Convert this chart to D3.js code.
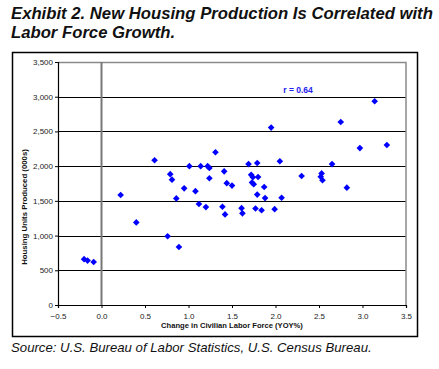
<!DOCTYPE html>
<html>
<head>
<meta charset="utf-8">
<script src="https://cdn.jsdelivr.net/npm/d3@7"></script>
<style>
  body { margin: 0; background: #fff; }
  svg { display: block; font-family: "Liberation Sans", Arial, sans-serif; }
  .tick text { fill: #222; font-size: 8px; }
  .axis path, .axis line { stroke: #000; }
</style>
</head>
<body>
<svg id="chart" width="439" height="369"></svg>
<script>
// change in civilian labor force (YOY%)
const laborGrowth = [-0.20, -0.16, -0.09, 0.22, 0.40, 0.61, 0.76, 0.79, 0.81, 0.86,
  0.89, 0.95, 1.01, 1.08, 1.12, 1.14, 1.20, 1.22, 1.24, 1.24,
  1.31, 1.39, 1.42, 1.41, 1.44, 1.50, 1.61, 1.62, 1.69, 1.72,
  1.74, 1.80, 1.73, 1.75, 1.79, 1.77, 1.79, 1.84, 1.87, 1.88,
  1.95, 1.99, 2.05, 2.07, 2.30, 2.53, 2.52, 2.54, 2.65, 2.75,
  2.82, 2.97, 3.14, 3.28];
// housing units produced (000s)
const housingUnits = [660, 640, 620, 1585, 1190, 2085, 990, 1885, 1805, 1535,
  835, 1680, 2000, 1640, 1455, 2000, 1410, 2000, 1975, 1825,
  2200, 1415, 1305, 1925, 1755, 1720, 1395, 1320, 2030, 1875,
  1840, 1843, 1765, 1740, 2045, 1390, 1590, 1365, 1700, 1540,
  2555, 1380, 2070, 1545, 1858, 1895, 1848, 1796, 2030, 2635,
  1690, 2260, 2935, 2305];
const xTicks = [-0.5, 0, 0.5, 1, 1.5, 2, 2.5, 3, 3.5];
const yTicks = [0, 500, 1000, 1500, 2000, 2500, 3000, 3500];
const rLabel = "r = 0.64";

const svg = d3.select("#chart");
const plot = {left: 58, right: 406, top: 62, bottom: 305};

const x = d3.scaleLinear().domain([-0.5, 3.5]).range([plot.left, plot.right]);
const y = d3.scaleLinear().domain([0, 3500]).range([plot.bottom, plot.top]);

// title
const title = svg.append("text")
    .attr("x", 11).attr("y", 19)
    .attr("font-size", "16.7px").attr("font-weight", "bold").attr("font-style", "italic")
    .attr("fill", "#111");
title.append("tspan").attr("x", 11).text("Exhibit 2. New Housing Production Is Correlated with");
title.append("tspan").attr("x", 11).attr("dy", 19).text("Labor Force Growth.");

// outer frame
svg.append("rect")
    .attr("x", 12.5).attr("y", 52.5)
    .attr("width", 405).attr("height", 284)
    .attr("fill", "none").attr("stroke", "#000").attr("stroke-width", 1.5);

// grid
svg.append("g")
    .selectAll("line")
    .data(yTicks.filter(d => d > 0 && d < 3500))
    .join("line")
    .attr("x1", plot.left).attr("x2", plot.right)
    .attr("y1", d => Math.round(y(d)) + 0.5).attr("y2", d => Math.round(y(d)) + 0.5)
    .attr("stroke", "#000").attr("stroke-width", 1);

// plot border top/right
svg.append("path")
    .attr("d", `M${plot.left},${plot.top + 0.5}H${plot.right}V${plot.bottom}`)
    .attr("fill", "none").attr("stroke", "#8a8a8a").attr("stroke-width", 1.5);

// zero line
svg.append("line")
    .attr("x1", x(0)).attr("x2", x(0))
    .attr("y1", plot.top).attr("y2", plot.bottom)
    .attr("stroke", "#777").attr("stroke-width", 2);

// axes
svg.append("g")
    .attr("class", "axis")
    .attr("transform", `translate(0,${plot.bottom})`)
    .call(d3.axisBottom(x).tickValues(xTicks).tickFormat(d3.format(".1f")).tickSize(3).tickPadding(5));

svg.append("g")
    .attr("class", "axis")
    .attr("transform", `translate(${plot.left},0)`)
    .call(d3.axisLeft(y).tickValues(yTicks).tickFormat(d3.format(",")).tickSize(3).tickPadding(2));

svg.selectAll(".axis .domain").attr("stroke-width", 1.2);

// axis titles
svg.append("text")
    .attr("x", (plot.left + plot.right) / 2).attr("y", 328)
    .attr("text-anchor", "middle")
    .attr("font-size", "7.6px").attr("font-weight", "bold").attr("fill", "#111")
    .text("Change in Civilian Labor Force (YOY%)");

svg.append("text")
    .attr("transform", "translate(27,207) rotate(-90)")
    .attr("text-anchor", "middle")
    .attr("font-size", "7.8px").attr("font-weight", "bold").attr("fill", "#111")
    .text("Housing Units Produced (000s)");

// points
const pts = laborGrowth.map((v, i) => ({x: v, y: housingUnits[i]}));
svg.append("g")
    .selectAll("path")
    .data(pts)
    .join("path")
    .attr("d", d3.symbol(d3.symbolSquare, 22))
    .attr("transform", d => `translate(${x(d.x)},${y(d.y)}) rotate(45)`)
    .attr("fill", "#0000ff");

// correlation label
svg.append("text")
    .attr("x", 298).attr("y", 93)
    .attr("text-anchor", "middle")
    .attr("font-size", "8.5px").attr("font-weight", "bold").attr("fill", "#2222ee")
    .text(rLabel);

// source
svg.append("text")
    .attr("x", 11).attr("y", 352)
    .attr("font-size", "13.2px").attr("font-style", "italic").attr("fill", "#111")
    .text("Source: U.S. Bureau of Labor Statistics, U.S. Census Bureau.");
</script>
</body>
</html>
